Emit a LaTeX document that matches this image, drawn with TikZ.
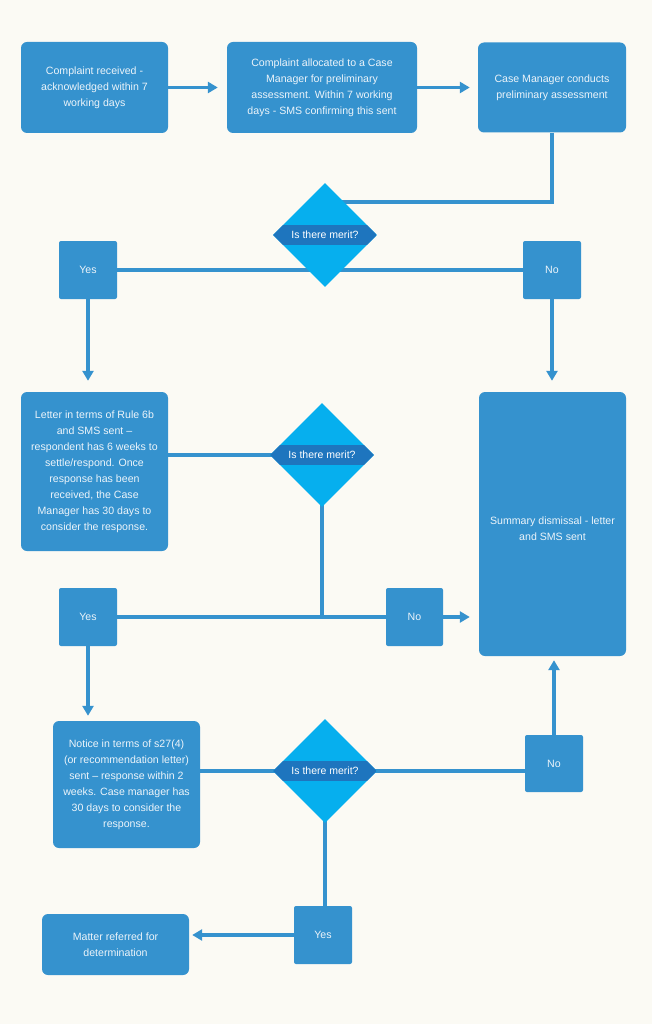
\documentclass[tikz,border=0pt]{standalone}
\usepackage{fontspec}
\setmainfont{Liberation Sans}
\usetikzlibrary{arrows.meta,shapes.geometric}
\definecolor{bgc}{RGB}{251,250,244}
\definecolor{boxc}{RGB}{53,146,206}
\definecolor{dia}{RGB}{6,175,238}
\definecolor{band}{RGB}{30,117,190}
\definecolor{txt}{RGB}{236,244,250}
\pgfdeclarelayer{bg}
\pgfsetlayers{bg,main}
\tikzset{
  box/.style={fill=boxc,rounded corners=6pt,inner sep=0pt,align=center,text=txt,
    font=\fontsize{10.6}{16}\selectfont},
  yn/.style={fill=boxc,rounded corners=2pt,inner sep=0pt,minimum width=58pt,minimum height=58pt,
    text=txt,font=\fontsize{10.6}{16}\selectfont},
  dec/.style={diamond,fill=dia,inner sep=0pt,minimum width=104pt,minimum height=104pt,
    text=white,font=\fontsize{10.5}{12}\selectfont,
    path picture={\fill[band] ([yshift=-10pt]path picture bounding box.west) rectangle ([yshift=10pt]path picture bounding box.east);}},
  conn/.style={draw=boxc,line width=3.2pt},
  arr/.style={conn,-{Triangle[length=10pt,width=11pt]}},
}
\begin{document}
\begin{tikzpicture}[x=1pt,y=-1pt]
\useasboundingbox (0,0) rectangle (652,1024);
% nodes
\node[box,minimum width=147pt,minimum height=91pt] (b1) at (94.5,87.5) {Complaint received -\\acknowledged within 7\\working days};
\node[box,minimum width=190pt,minimum height=91pt] (b2) at (322,87.5) {Complaint allocated to a Case\\Manager for preliminary\\assessment. Within 7 working\\days - SMS confirming this sent};
\node[box,minimum width=148pt,minimum height=90pt] (b3) at (552,87.5) {Case Manager conducts\\preliminary assessment};
\node[dec] (d1) at (325,235) {Is there merit?};
\node[yn] (yes1) at (88,270) {Yes};
\node[yn] (no1) at (552,270) {No};
\node[box,minimum width=147pt,minimum height=159pt] (b4) at (94.5,471.5) {Letter in terms of Rule 6b\\and SMS sent –\\respondent has 6 weeks to\\settle/respond. Once\\response has been\\received, the Case\\Manager has 30 days to\\consider the response.};
\node[box,minimum width=147pt,minimum height=264pt] (sum) at (552.5,524) {};
\node[text=txt,align=center,font=\fontsize{10.6}{16}\selectfont,inner sep=0pt] (sumtxt) at ([yshift=-5pt]sum.center) {Summary dismissal - letter\\and SMS sent};
\node[dec] (d2) at (322,455) {Is there merit?};
\node[yn] (yes2) at (88,617) {Yes};
\node[yn,minimum width=57pt] (no2) at (414.5,617) {No};
\node[box,minimum width=147pt,minimum height=127pt] (b5) at (126.5,784.5) {Notice in terms of s27(4)\\(or recommendation letter)\\sent – response within 2\\weeks. Case manager has\\30 days to consider the\\response.};
\node[dec] (d3) at (325,771) {Is there merit?};
\node[yn,minimum height=57pt] (no3) at (554,763.5) {No};
\node[yn] (yes3) at (323,935) {Yes};
\node[box,minimum width=147pt,minimum height=61pt] (b6) at (115.5,944.5) {Matter referred for\\determination};
% connectors
\begin{pgfonlayer}{bg}
\fill[bgc] (0,0) rectangle (652,1024);
\draw[arr,shorten >=9pt] (b1.east) -- (b2.west |- b1.east);
\draw[arr,shorten >=8pt] (b2.east) -- (b3.west |- b2.east);
\coordinate (k1) at (b3.south |- 0,202);
\draw[conn] (b3.south) -- (k1) -- (d1.center |- k1);
\draw[conn] (yes1) -- (no1);
\draw[arr,shorten >=11pt] (yes1.south) -- (yes1.south |- b4.north);
\draw[arr,shorten >=11pt] (no1.south) -- (no1.south |- sum.north);
\draw[conn] (d2.center) -- (d2 -| b4.east);
\draw[conn] (d2.center) -- (d2.center |- no2.center);
\draw[conn] (yes2) -- (no2);
\draw[arr,shorten >=9pt] (no2.east) -- (no2.east -| sum.west);
\draw[arr,shorten >=5pt] (yes2.south) -- (yes2.south |- b5.north);
\draw[conn] (d3.center) -- (d3 -| b5.east);
\draw[conn] (d3.center) -- (d3 -| no3.west);
\draw[arr,shorten >=4pt] (no3.north) -- (no3.north |- sum.south);
\draw[conn] (d3.center) -- (d3.center |- yes3.north);
\draw[arr,shorten >=3pt] (yes3.west) -- (yes3.west -| b6.east);
\end{pgfonlayer}
\end{tikzpicture}
\end{document}
